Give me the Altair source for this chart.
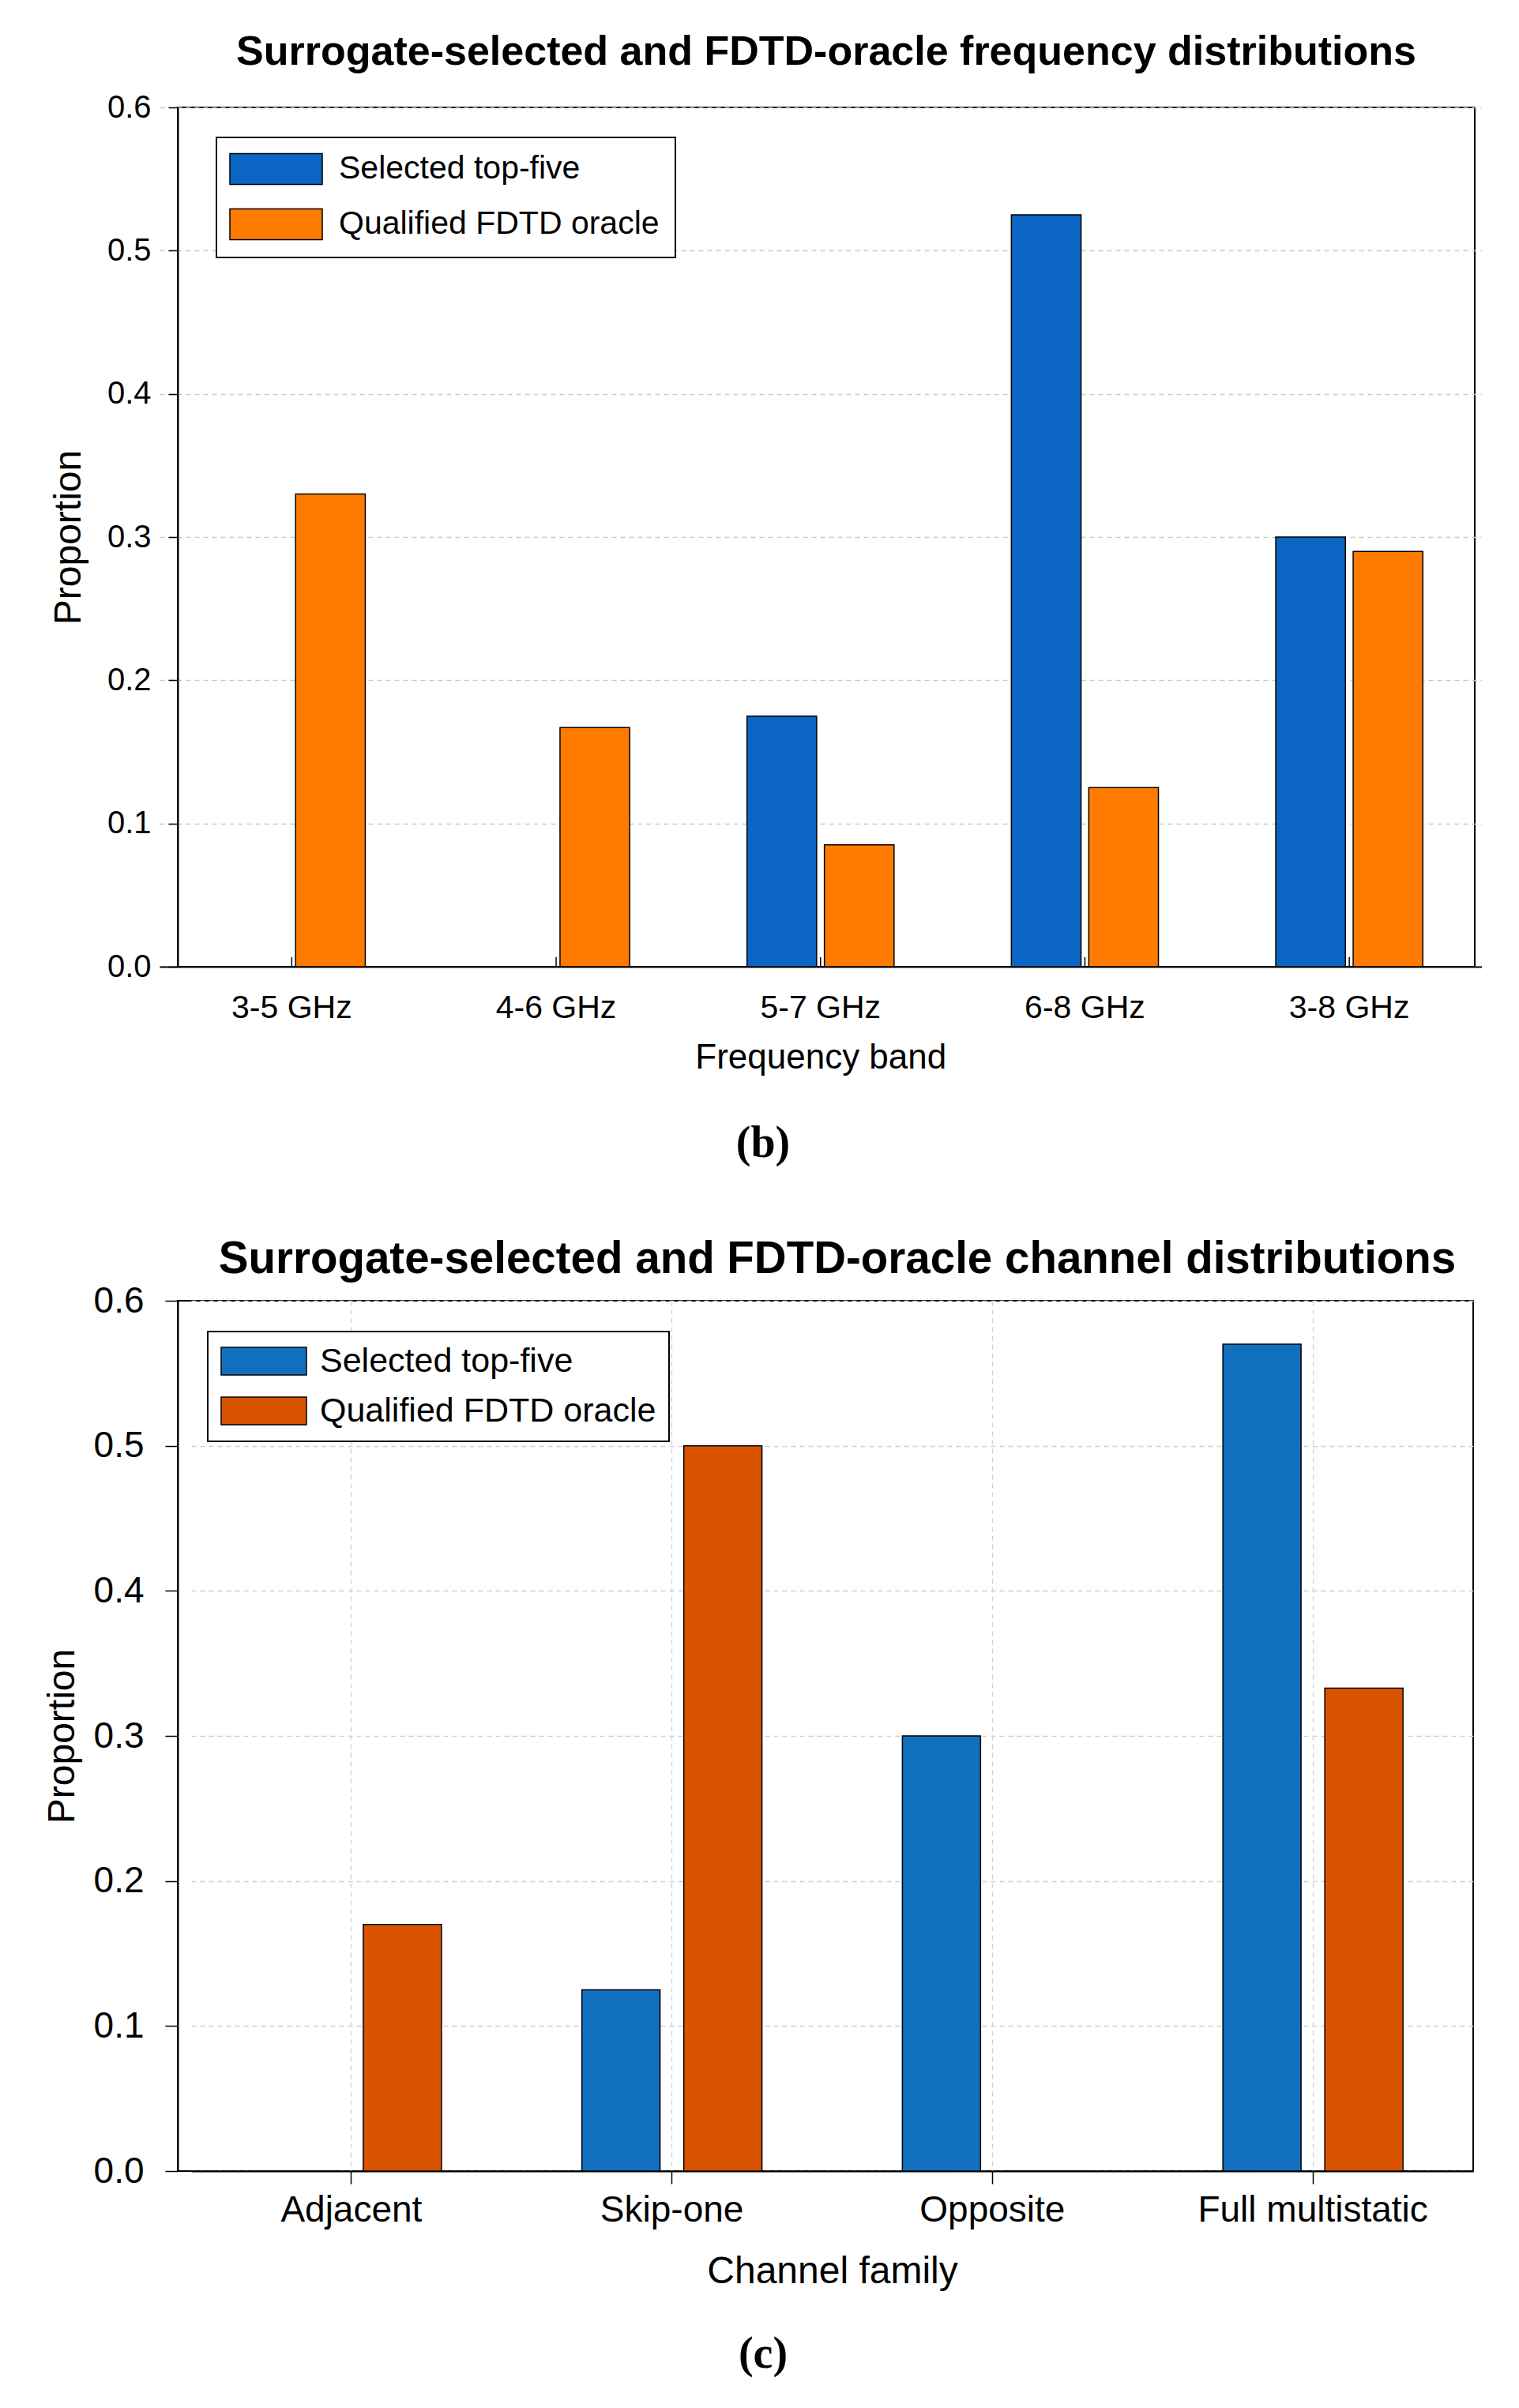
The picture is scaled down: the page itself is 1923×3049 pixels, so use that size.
import altair as alt
import pandas as pd

# ---------------- data ----------------
series = ["Selected top-five", "Qualified FDTD oracle"]

bands = ["3-5 GHz", "4-6 GHz", "5-7 GHz", "6-8 GHz", "3-8 GHz"]
band_selected = [0.0, 0.0, 0.175, 0.525, 0.300]
band_oracle = [0.330, 0.167, 0.085, 0.125, 0.290]

families = ["Adjacent", "Skip-one", "Opposite", "Full multistatic"]
family_selected = [0.0, 0.125, 0.300, 0.570]
family_oracle = [0.170, 0.500, 0.0, 0.333]

y_ticks = [0.0, 0.1, 0.2, 0.3, 0.4, 0.5, 0.6]

df_band = pd.DataFrame(
    {"band": bands * 2,
     "series": [series[0]] * len(bands) + [series[1]] * len(bands),
     "value": band_selected + band_oracle}
)
df_fam = pd.DataFrame(
    {"family": families * 2,
     "series2": [series[0]] * len(families) + [series[1]] * len(families),
     "value": family_selected + family_oracle}
)

REG = "Liberation Sans, Arial, sans-serif"
SERIF = "Liberation Serif, Times New Roman, serif"

W1, H1 = 1642, 1088
W2, H2 = 1640, 1102

# ---------------- panel (b) ----------------
bars1 = alt.Chart(df_band).mark_bar(stroke="black", strokeWidth=1.5).encode(
    x=alt.X("band:N", sort=bands, title="Frequency band",
            scale=alt.Scale(paddingInner=0, paddingOuter=0, range=[-23, 1650.5]),
            axis=alt.Axis(ticks=False, labelAngle=0,
                          labelFont=REG, labelFontSize=41, labelPadding=32,
                          titleFont=REG, titleFontSize=44, titleFontWeight="normal",
                          titlePadding=21, grid=False)),
    xOffset=alt.XOffset("series:N", sort=series,
                        scale=alt.Scale(domain=series, paddingInner=0.1, paddingOuter=0.758)),
    y=alt.Y("value:Q", title="Proportion", scale=alt.Scale(domain=[0, 0.6], nice=False),
            axis=alt.Axis(values=y_ticks, format=".1f",
                          labelFont=REG, labelFontSize=40, labelPadding=22,
                          tickSize=12, titleFont=REG, titleFontSize=48,
                          titleFontWeight="normal", titlePadding=24,
                          grid=True, gridDash=[6, 5], gridColor="#c9c9c9", gridWidth=1.3)),
    color=alt.Color("series:N", sort=series,
                    scale=alt.Scale(domain=series, range=["#0B66C3", "#FF7B00"]),
                    legend=alt.Legend(title=None, orient="none", legendX=49, legendY=38,
                                      labelFont=REG, labelFontSize=41, labelColor="black",
                                      labelLimit=1000,
                                      symbolType="M-3,-1H3V1H-3Z", symbolSize=1521,
                                      symbolStrokeColor="black", symbolStrokeWidth=1.5,
                                      symbolOpacity=1, symbolOffset=35.5, labelOffset=59,
                                      rowPadding=25, padding=19.5,
                                      strokeColor="black", fillColor="white")),
)

ticks1 = alt.Chart(pd.DataFrame({"band": bands})).mark_rule(color="black", strokeWidth=1.5).encode(
    x=alt.X("band:N", sort=bands, title="Frequency band"),
    y=alt.value(H1),
    y2=alt.value(H1 - 12),
)

lab1 = alt.Chart(pd.DataFrame({"t": ["(b)"]})).mark_text(
    font=SERIF, fontSize=56, fontWeight="bold", align="center", baseline="middle", color="black"
).encode(text="t:N", x=alt.value(741), y=alt.value(1312))

panel_b = alt.layer(bars1, ticks1, lab1).properties(
    width=W1, height=H1,
    title=alt.TitleParams("Surrogate-selected and FDTD-oracle frequency distributions",
                          font=REG, fontSize=52, fontWeight="bold", anchor="middle",
                          color="black", offset=23),
)

# ---------------- panel (c) ----------------
bars2 = alt.Chart(df_fam).mark_bar(stroke="black", strokeWidth=1.5).encode(
    x=alt.X("family:N", sort=families, title="Channel family",
            scale=alt.Scale(paddingInner=0, paddingOuter=0, range=[17, 1640]),
            axis=alt.Axis(labelAngle=0, tickSize=16,
                          labelFont=REG, labelFontSize=46, labelPadding=11,
                          titleFont=REG, titleFontSize=48, titleFontWeight="normal",
                          titlePadding=31, grid=True, gridDash=[6, 5],
                          gridColor="#d0d0d0", gridWidth=1.3)),
    xOffset=alt.XOffset("series2:N", sort=series,
                        scale=alt.Scale(domain=series, paddingInner=0.233, paddingOuter=0.689)),
    y=alt.Y("value:Q", title="Proportion", scale=alt.Scale(domain=[0, 0.6], nice=False),
            axis=alt.Axis(values=y_ticks, format=".1f",
                          labelFont=REG, labelFontSize=46, labelPadding=27,
                          tickSize=16, titleFont=REG, titleFontSize=48,
                          titleFontWeight="normal", titlePadding=15,
                          grid=True, gridDash=[6, 5], gridColor="#d0d0d0", gridWidth=1.3)),
    color=alt.Color("series2:N", sort=series,
                    scale=alt.Scale(domain=series, range=["#1170BE", "#D95300"]),
                    legend=alt.Legend(title=None, orient="none", legendX=38, legendY=39,
                                      labelFont=REG, labelFontSize=43, labelColor="black",
                                      labelLimit=1000,
                                      symbolType="M-3.086,-1H3.086V1H-3.086Z", symbolSize=1225,
                                      symbolStrokeColor="black", symbolStrokeWidth=1.5,
                                      symbolOpacity=1, symbolOffset=33.5, labelOffset=49.5,
                                      rowPadding=19, padding=16,
                                      strokeColor="black", fillColor="white")),
)

lab2 = alt.Chart(pd.DataFrame({"t": ["(c)"]})).mark_text(
    font=SERIF, fontSize=56, fontWeight="bold", align="center", baseline="middle", color="black"
).encode(text="t:N", x=alt.value(741), y=alt.value(1334))

panel_c = alt.layer(bars2, lab2).properties(
    width=W2, height=H2,
    title=alt.TitleParams("Surrogate-selected and FDTD-oracle channel distributions",
                          font=REG, fontSize=56.5, fontWeight="bold", anchor="middle",
                          color="black", offset=1, dx=15),
)

chart = alt.vconcat(panel_b, panel_c, spacing=88).resolve_scale(
    color="independent", x="independent", y="independent", xOffset="independent"
).resolve_legend(color="independent").properties(
    padding={"left": 46, "top": 31, "right": 10, "bottom": 10},
    background="white",
).configure_view(
    stroke="black", strokeWidth=2
).configure_axis(
    domainColor="black", domainWidth=2, tickColor="black", tickWidth=1.5,
    labelColor="black", titleColor="black", labelLimit=1000
).configure_legend(
    strokeWidth=2
)

chart.save("out.html", embed_options={"renderer": "svg", "actions": False})
